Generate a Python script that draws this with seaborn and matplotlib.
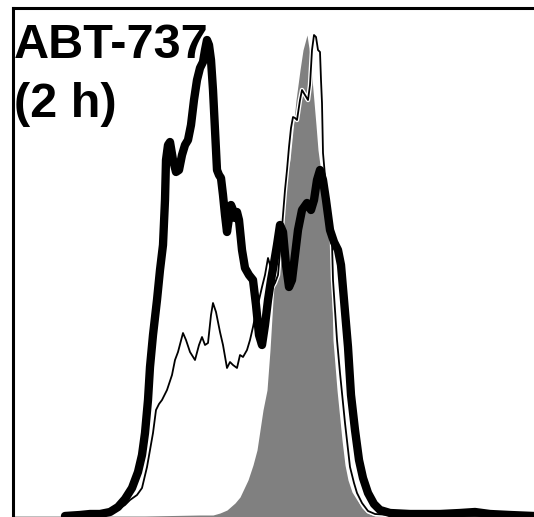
import matplotlib
matplotlib.use("Agg")
import matplotlib.pyplot as plt
import matplotlib.patheffects as pe
import seaborn as sns
import pandas as pd

# fluorescence channel vs. cell count
ctrl_x = [0, 132, 187, 200, 207, 214, 222, 227, 235, 240, 244, 247, 250, 254, 257, 260,
          263, 267, 271, 274, 277, 280, 283, 287, 290, 294, 297, 300, 303, 305, 309, 313,
          317, 319, 320, 324, 329, 332, 335, 339, 344, 349, 354, 362, 521]
ctrl_y = [1, 1, 2, 2, 4, 7, 14, 20, 37, 52, 67, 87, 107, 127, 167, 217,
          257, 297, 322, 342, 357, 387, 417, 447, 467, 482, 462, 427, 392, 367, 337, 302,
          270, 217, 177, 127, 77, 52, 37, 25, 17, 9, 4, 1, 1]

thin_x = [52, 77, 92, 104, 112, 117, 124, 129, 134, 137, 140, 143, 146, 149, 154, 159,
          162, 165, 170, 173, 177, 182, 186, 189, 192, 195, 198, 200, 203, 207, 210, 214,
          217, 220, 224, 227, 230, 234, 237, 240, 243, 246, 249, 252, 255, 257, 259, 262,
          265, 268, 270, 272, 274, 276, 278, 280, 282, 284, 287, 289, 292, 295, 297, 299,
          301, 303, 305, 307, 308, 309, 310, 313, 316, 319, 320, 322, 324, 327, 332, 337,
          341, 344, 349, 355, 362, 377, 407, 521]
thin_y = [1, 2, 4, 7, 12, 17, 22, 29, 50, 67, 84, 107, 113, 117, 127, 142,
          157, 165, 184, 177, 165, 157, 172, 180, 172, 174, 202, 214, 205, 185, 172, 149,
          155, 152, 149, 162, 160, 167, 177, 190, 205, 217, 230, 242, 259, 252, 229, 234,
          242, 277, 302, 327, 347, 370, 389, 400, 399, 397, 417, 427, 422, 417, 432, 467,
          482, 480, 467, 465, 437, 414, 364, 330, 297, 274, 237, 207, 177, 144, 94, 50,
          34, 24, 14, 6, 3, 2, 1, 1]

thick_x = [52, 67, 77, 87, 97, 105, 112, 119, 125, 129, 132, 135, 137, 140, 144, 147,
           150, 152, 153, 155, 157, 160, 163, 166, 169, 172, 175, 178, 181, 184, 187, 190,
           192, 194, 196, 198, 200, 202, 204, 206, 208, 210, 212, 214, 216, 218, 220, 222,
           224, 226, 229, 232, 236, 240, 243, 246, 249, 252, 255, 258, 261, 264, 267, 270,
           273, 276, 279, 282, 285, 289, 294, 298, 301, 304, 307, 310, 313, 317, 321, 325,
           328, 331, 335, 338, 342, 346, 350, 355, 361, 367, 377, 397, 427, 447, 462, 477,
           497, 521]
thick_y = [1, 2, 3, 3, 5, 10, 18, 29, 45, 62, 84, 117, 150, 182, 217, 247,
           272, 317, 357, 372, 375, 357, 345, 347, 362, 372, 377, 392, 417, 437, 449, 455,
           467, 477, 472, 457, 427, 387, 347, 342, 339, 322, 302, 285, 299, 312, 307, 299,
           305, 297, 267, 249, 242, 237, 212, 182, 172, 192, 217, 237, 254, 272, 292, 285,
           252, 230, 237, 262, 287, 307, 314, 307, 317, 337, 347, 337, 317, 287, 275, 267,
           252, 217, 170, 122, 87, 57, 39, 24, 13, 7, 4, 3, 3, 4, 5, 3,
           2, 1]

thin = pd.DataFrame({"channel": thin_x, "count": thin_y})
thick = pd.DataFrame({"channel": thick_x, "count": thick_y})

sns.set_style("white")
fig = plt.figure(figsize=(5.34, 5.17), dpi=100)
ax = fig.add_axes([13 / 534, 0, 1 - 13 / 534, 509 / 517])

ax.fill_between(ctrl_x, ctrl_y, 0, color="#808080", linewidth=0, zorder=1)
sns.lineplot(data=thin, x="channel", y="count", sort=False, estimator=None,
             color="black", linewidth=1.3, ax=ax, zorder=2,
             path_effects=[pe.Stroke(linewidth=3.2, foreground="white"), pe.Normal()])
sns.lineplot(data=thick, x="channel", y="count", sort=False, estimator=None,
             color="black", linewidth=6, ax=ax, zorder=3,
             solid_joinstyle="round", solid_capstyle="round")

ax.set_xlim(0, 521)
ax.set_ylim(0, 509)
ax.set_xticks([])
ax.set_yticks([])
ax.set_xlabel("")
ax.set_ylabel("")
for side in ["right", "bottom"]:
    ax.spines[side].set_visible(False)
for side in ["left", "top"]:
    ax.spines[side].set_color("black")
    ax.spines[side].set_linewidth(2.2)

font = {"family": "Liberation Sans", "weight": "bold", "size": 35, "color": "black"}
fig.text(14 / 534, 1 - 58 / 517, "ABT-737", va="baseline", ha="left", **font)
fig.text(14 / 534, 1 - 117 / 517, "(2 h)", va="baseline", ha="left", **font)

fig.savefig("out.png", dpi=100)
